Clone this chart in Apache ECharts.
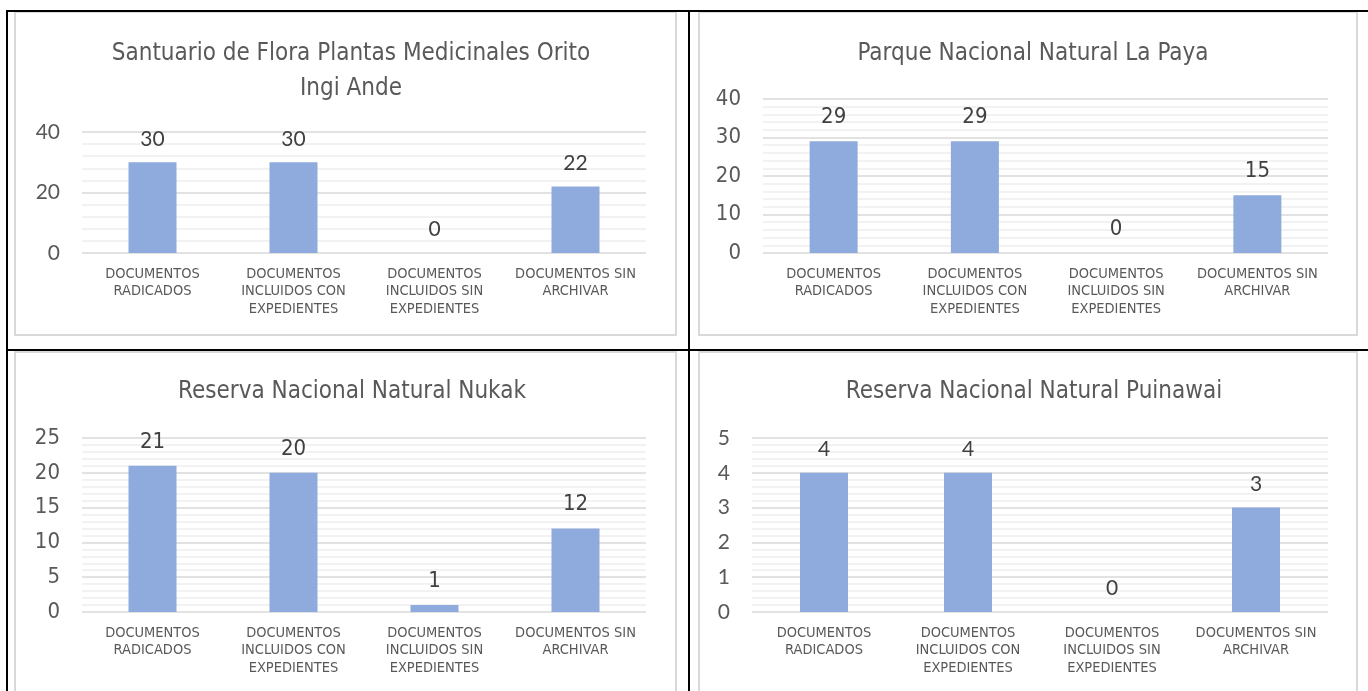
<!DOCTYPE html>
<html>
<head>
<meta charset="utf-8">
<script src="https://cdn.jsdelivr.net/npm/echarts@6/dist/echarts.min.js"></script>
<style>
html,body{margin:0;padding:0;background:#fff;}
#c{width:1368px;height:691px;}
</style>
</head>
<body>
<div id="c"></div>
<script>
// ---- Data ----
const categories = [
  "DOCUMENTOS\nRADICADOS",
  "DOCUMENTOS\nINCLUIDOS CON\nEXPEDIENTES",
  "DOCUMENTOS\nINCLUIDOS SIN\nEXPEDIENTES",
  "DOCUMENTOS SIN\nARCHIVAR"
];
const titles = [
  "Santuario de Flora Plantas Medicinales Orito\nIngi Ande",
  "Parque Nacional Natural La Paya",
  "Reserva Nacional Natural Nukak",
  "Reserva Nacional Natural Puinawai"
];
const valuesOrito = [30, 30, 0, 22];
const valuesLaPaya = [29, 29, 0, 15];
const valuesNukak = [21, 20, 1, 12];
const valuesPuinawai = [4, 4, 0, 3];
const axisMax = [40, 40, 25, 5];
const axisInterval = [20, 10, 5, 1];

// ---- Styling / layout ----
const NARROW = "'Liberation Sans Narrow','Arial Narrow','DejaVu Sans Condensed',sans-serif";
const ROUND = "Lato,'Open Sans',sans-serif";
const panels = [
  {values: valuesOrito, grid: {left: 82, top: 132, width: 564, height: 121}, numFont: ROUND, numSize: 21, titleX: 346, titleY: 31},
  {values: valuesLaPaya, grid: {left: 763, top: 99, width: 565, height: 154}, numFont: NARROW, numSize: 22, titleX: 1028, titleY: 31},
  {values: valuesNukak, grid: {left: 82, top: 438, width: 564, height: 174}, numFont: NARROW, numSize: 22, titleX: 347, titleY: 369},
  {values: valuesPuinawai, grid: {left: 752, top: 438, width: 576, height: 174}, numFont: ROUND, numSize: 21, titleX: 1029, titleY: 369}
];

const option = {
  animation: false,
  backgroundColor: '#fff',
  title: panels.map((p, i) => ({
    text: titles[i],
    left: p.titleX,
    top: p.titleY,
    textAlign: 'center',
    textStyle: {fontFamily: NARROW, fontSize: 24, fontWeight: 'normal', color: '#595959', lineHeight: 35}
  })),
  grid: panels.map(p => Object.assign({containLabel: false}, p.grid)),
  xAxis: panels.map((p, i) => ({
    type: 'category',
    gridIndex: i,
    data: categories,
    axisLine: {show: false},
    axisTick: {show: false},
    axisLabel: {interval: 0, margin: 12, fontFamily: NARROW, fontSize: 14.5, lineHeight: 17.5, color: '#595959'}
  })),
  yAxis: panels.map((p, i) => ({
    type: 'value',
    gridIndex: i,
    min: 0,
    max: axisMax[i],
    interval: axisInterval[i],
    axisLine: {show: false},
    axisTick: {show: false},
    axisLabel: {margin: 22, fontFamily: p.numFont, fontSize: p.numSize, color: '#595959'},
    splitLine: {show: true, lineStyle: {color: '#d9d9d9', width: 1.5}},
    minorTick: {show: false, splitNumber: 5},
    minorSplitLine: {show: true, lineStyle: {color: '#eeeeee', width: 1.5}}
  })),
  series: panels.map((p, i) => ({
    type: 'bar',
    xAxisIndex: i,
    yAxisIndex: i,
    data: p.values,
    barWidth: 48,
    itemStyle: {color: '#8FAADC'},
    label: {show: true, position: 'top', distance: 13, fontFamily: p.numFont, fontSize: p.numSize, color: '#404040'}
  })),
  graphic: [
    {type: 'rect', shape: {x: 15, y: 12, width: 661, height: 323}, style: {fill: 'none', stroke: '#d9d9d9', lineWidth: 2}, z: -1},
    {type: 'rect', shape: {x: 699, y: 12, width: 658, height: 323}, style: {fill: 'none', stroke: '#d9d9d9', lineWidth: 2}, z: -1},
    {type: 'rect', shape: {x: 15, y: 352, width: 661, height: 360}, style: {fill: 'none', stroke: '#d9d9d9', lineWidth: 2}, z: -1},
    {type: 'rect', shape: {x: 699, y: 352, width: 658, height: 360}, style: {fill: 'none', stroke: '#d9d9d9', lineWidth: 2}, z: -1},
    {type: 'line', shape: {x1: 6, y1: 11, x2: 1368, y2: 11}, style: {stroke: '#000', lineWidth: 2}},
    {type: 'line', shape: {x1: 7, y1: 10, x2: 7, y2: 691}, style: {stroke: '#000', lineWidth: 2}},
    {type: 'line', shape: {x1: 689, y1: 10, x2: 689, y2: 691}, style: {stroke: '#000', lineWidth: 2}},
    {type: 'line', shape: {x1: 6, y1: 350, x2: 1368, y2: 350}, style: {stroke: '#000', lineWidth: 2}}
  ]
};

const chart = echarts.init(document.getElementById('c'), null, {renderer: 'canvas'});
chart.setOption(option);
</script>
</body>
</html>
